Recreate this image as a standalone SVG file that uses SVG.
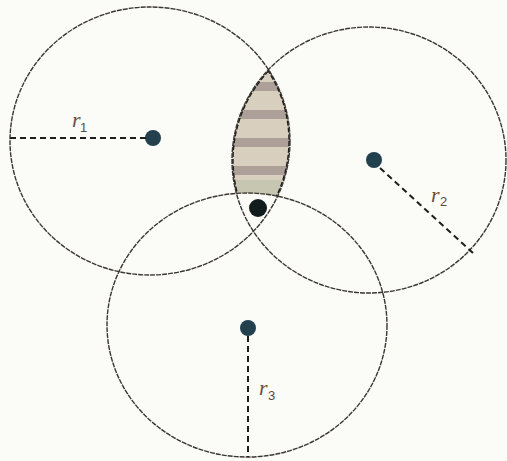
<svg xmlns="http://www.w3.org/2000/svg" width="507" height="461" viewBox="0 0 507 461">
  <style>
    .ring { fill: none; stroke: #3a3630; stroke-width: 1.4; stroke-dasharray: 5 1; }
    .edge { fill: none; stroke: #1c1c1c; stroke-width: 3.4; stroke-dasharray: 5 2; }
    .radius { stroke: #1e1e1e; stroke-width: 2; stroke-dasharray: 6 4; fill: none; }
    .center { fill: #22404d; }
    .lbl { font-family: "Liberation Serif", serif; font-style: italic; font-size: 22px; fill: #6a4e3a; }
    .sub { font-family: "Liberation Sans", sans-serif; font-size: 13px; fill: #5a4a3c; }
  </style>
  <defs>
    <pattern id="stripes" patternUnits="userSpaceOnUse" x="0" y="66" width="10" height="28">
      <rect width="10" height="28" fill="#d8cfbf"/>
      <rect y="16" width="10" height="9" fill="#ada099"/>
    </pattern>
    <clipPath id="c1"><ellipse cx="150" cy="141" rx="140" ry="134"/></clipPath>
    <mask id="m23">
      <rect width="507" height="461" fill="black"/>
      <ellipse cx="369" cy="160" rx="137" ry="133" fill="white"/>
      <ellipse cx="247" cy="325" rx="140" ry="132" fill="black"/>
    </mask>
  </defs>
  <rect width="507" height="461" fill="#fbfbf8"/>
  <g id="lens">
    <g clip-path="url(#c1)" mask="url(#m23)">
      <rect x="200" y="50" width="120" height="160" fill="url(#stripes)"/>
      <rect x="200" y="180" width="120" height="20" fill="#bcc2a8" opacity="0.6"/>
      <ellipse class="edge" cx="150" cy="141" rx="140" ry="134"/>
      <ellipse class="edge" cx="369" cy="160" rx="137" ry="133"/>
    </g>
  </g>
  <g id="circle1">
    <ellipse class="ring" cx="150" cy="141" rx="140" ry="134"/>
    <circle class="center" cx="153" cy="138" r="8"/>
  </g>
  <g id="circle2">
    <ellipse class="ring" cx="369" cy="160" rx="137" ry="133"/>
    <circle class="center" cx="374" cy="160" r="8"/>
  </g>
  <g id="circle3">
    <ellipse class="ring" cx="247" cy="325" rx="140" ry="132"/>
    <circle class="center" cx="248" cy="328" r="8"/>
  </g>
  <g id="target">
    <circle cx="258" cy="208" r="9" fill="#111c1c"/>
  </g>
  <g id="connectors">
    <line class="radius" x1="10" y1="138" x2="146" y2="138"/>
    <line class="radius" x1="380" y1="168" x2="473" y2="253"/>
    <line class="radius" x1="248" y1="336" x2="248" y2="457"/>
  </g>
  <g id="labels">
    <text class="lbl" x="72" y="127">r</text><text class="sub" x="80" y="132">1</text>
    <text class="lbl" x="431" y="202">r</text><text class="sub" x="440" y="206">2</text>
    <text class="lbl" x="259" y="395">r</text><text class="sub" x="268" y="400">3</text>
  </g>
</svg>
